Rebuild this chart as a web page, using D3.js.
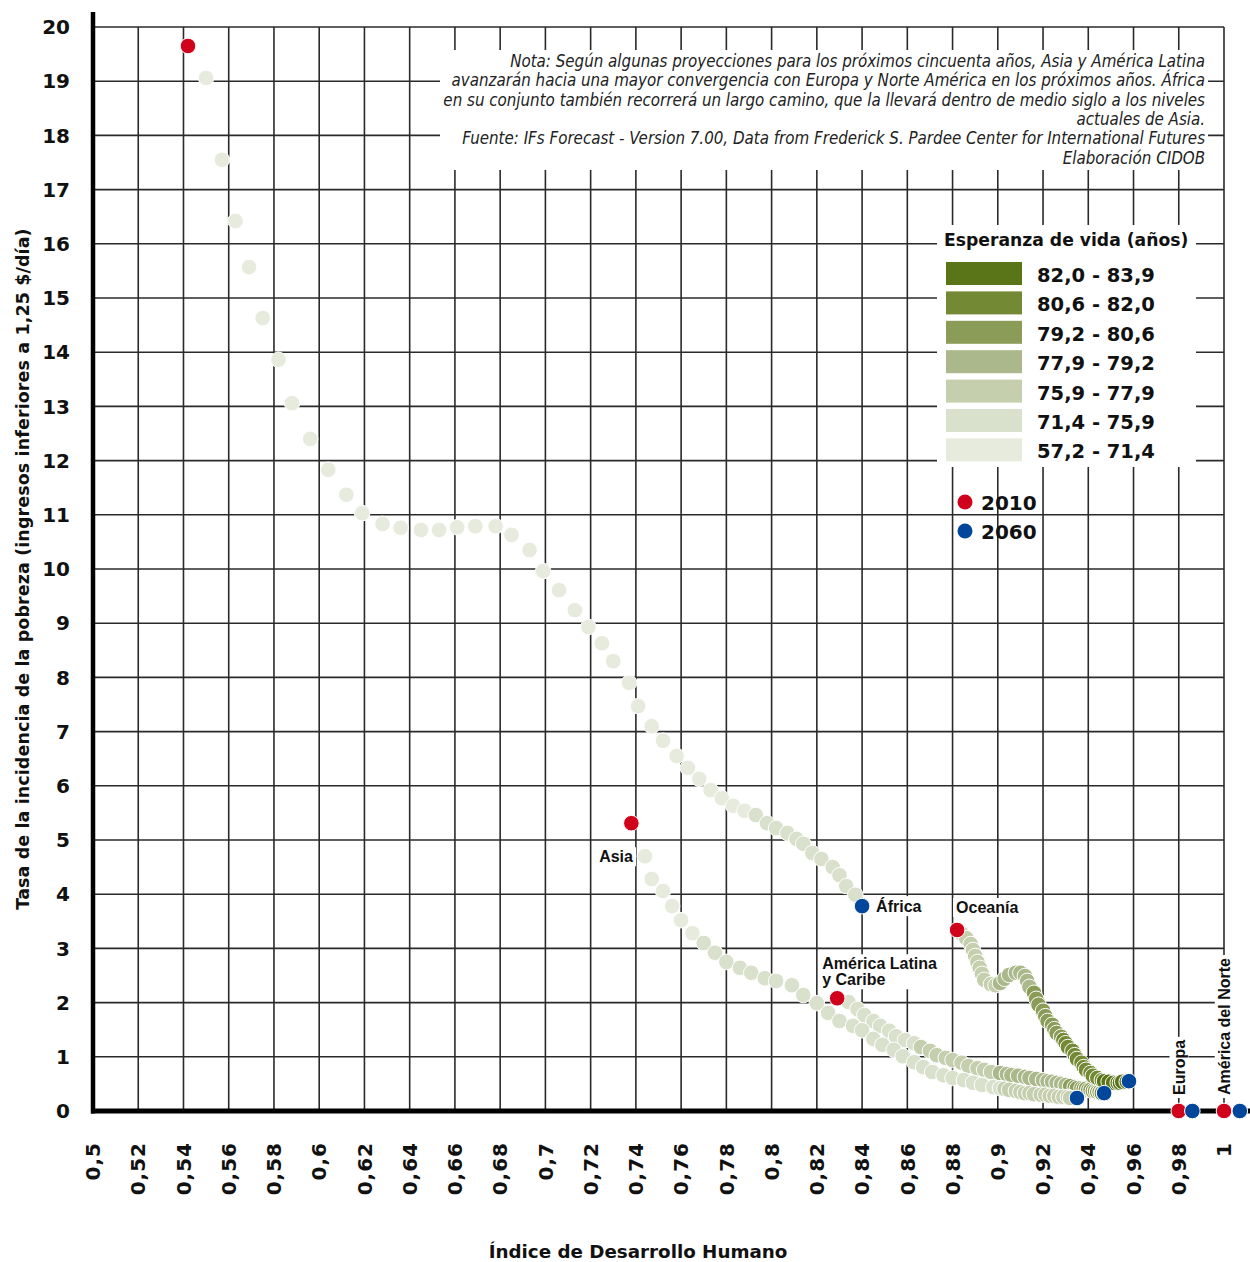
<!DOCTYPE html>
<html><head><meta charset="utf-8">
<script src="https://cdn.jsdelivr.net/npm/d3@7"></script>
<style>body{margin:0;background:#fff}svg{display:block}</style>
</head><body><svg id="c" width="1250" height="1262"></svg>
<script>
// ---------- DATA ----------
const xTicks = [0.5,0.52,0.54,0.56,0.58,0.6,0.62,0.64,0.66,0.68,0.7,0.72,0.74,0.76,0.78,0.8,0.82,0.84,0.86,0.88,0.9,0.92,0.94,0.96,0.98,1];
const xTickLabels = ["0,5","0,52","0,54","0,56","0,58","0,6","0,62","0,64","0,66","0,68","0,7","0,72","0,74","0,76","0,78","0,8","0,82","0,84","0,86","0,88","0,9","0,92","0,94","0,96","0,98","1"];
const yTicks = [0,1,2,3,4,5,6,7,8,9,10,11,12,13,14,15,16,17,18,19,20];

const africaHdi = [0.542,0.550,0.557,0.563,0.569,0.575,0.582,0.588,0.596,0.604,0.612,0.619,0.628,0.636,0.645,0.653,0.661,0.669,0.678,0.685,0.693,0.699,0.706,0.713,0.719,0.725,0.730,0.737,0.741,0.747,0.752,0.758,0.763,0.768,0.773,0.778,0.783,0.788,0.793,0.798,0.802,0.807,0.811,0.814,0.818,0.822,0.827,0.830,0.833,0.837,0.840];
const africaPov = [19.65,19.06,17.55,16.42,15.57,14.63,13.86,13.06,12.40,11.83,11.37,11.03,10.83,10.76,10.72,10.72,10.77,10.79,10.79,10.63,10.35,9.96,9.61,9.24,8.93,8.63,8.30,7.90,7.47,7.10,6.83,6.55,6.33,6.13,5.92,5.77,5.63,5.54,5.46,5.31,5.22,5.13,5.02,4.93,4.76,4.65,4.50,4.35,4.15,3.99,3.78];
const africaLife = [57.4,57.8,58.2,58.6,59.0,59.4,59.8,60.2,60.6,61.0,61.4,61.8,62.2,62.6,63.0,63.4,63.8,64.2,64.6,65.0,65.4,65.8,66.2,66.6,67.0,67.4,67.8,68.2,68.6,69.0,69.4,69.8,70.1,70.4,70.7,71.0,71.2,71.3,71.5,71.7,71.9,72.1,72.3,72.5,72.7,72.9,73.1,73.3,73.5,73.7,73.9];

const asiaHdi = [0.738,0.744,0.747,0.752,0.756,0.760,0.765,0.770,0.775,0.780,0.786,0.791,0.797,0.802,0.809,0.814,0.820,0.825,0.830,0.836,0.840,0.845,0.849,0.854,0.858,0.863,0.867,0.871,0.876,0.880,0.885,0.889,0.893,0.898,0.901,0.903,0.905,0.908,0.910,0.912,0.914,0.916,0.919,0.921,0.923,0.925,0.927,0.929,0.931,0.932,0.935];
const asiaPov = [5.31,4.70,4.28,4.06,3.78,3.52,3.28,3.10,2.92,2.75,2.64,2.55,2.45,2.40,2.32,2.14,1.99,1.81,1.66,1.57,1.49,1.33,1.22,1.13,1.01,0.90,0.81,0.72,0.66,0.61,0.57,0.52,0.48,0.44,0.42,0.41,0.39,0.37,0.35,0.33,0.33,0.31,0.30,0.30,0.28,0.28,0.26,0.26,0.26,0.24,0.24];
const asiaLife = [70.2,70.5,70.8,71.0,71.2,71.3,71.3,71.5,71.7,71.9,72.1,72.3,72.5,72.7,72.9,73.1,73.3,73.5,73.7,73.9,74.1,74.2,74.4,74.5,74.7,74.8,75.0,75.1,75.2,75.3,75.4,75.5,75.6,75.7,75.8,76.0,76.1,76.2,76.3,76.4,76.5,76.6,76.7,76.8,76.9,77.0,77.1,77.2,77.3,77.4,77.5];

const latamHdi = [0.829,0.834,0.838,0.841,0.845,0.848,0.852,0.855,0.859,0.863,0.866,0.870,0.873,0.877,0.880,0.884,0.887,0.891,0.894,0.897,0.901,0.904,0.906,0.909,0.912,0.914,0.917,0.920,0.922,0.924,0.926,0.928,0.930,0.932,0.934,0.935,0.937,0.938,0.939,0.940,0.941,0.942,0.943,0.944,0.944,0.945,0.945,0.946,0.946,0.947,0.947];
const latamPov = [2.08,2.01,1.88,1.77,1.66,1.57,1.48,1.38,1.31,1.25,1.18,1.11,1.03,0.98,0.94,0.89,0.83,0.79,0.76,0.72,0.70,0.68,0.66,0.65,0.63,0.61,0.59,0.57,0.55,0.54,0.52,0.50,0.48,0.46,0.44,0.42,0.42,0.41,0.41,0.39,0.39,0.37,0.37,0.37,0.35,0.35,0.35,0.35,0.33,0.33,0.33];
const latamLife = [74.0,74.2,74.4,74.6,74.8,75.0,75.2,75.4,75.6,75.8,76.0,76.2,76.4,76.6,76.8,77.0,77.2,77.4,77.6,77.8,77.9,78.0,78.1,78.2,78.3,78.4,78.5,78.6,78.7,78.8,78.9,79.0,79.1,79.2,79.3,79.4,79.5,79.6,79.7,79.8,79.9,80.0,80.1,80.2,80.3,80.4,80.5,80.6,80.7,80.8,80.9];

const oceaniaHdi = [0.882,0.884,0.886,0.888,0.889,0.890,0.891,0.892,0.893,0.894,0.897,0.899,0.901,0.903,0.905,0.908,0.910,0.912,0.913,0.914,0.916,0.917,0.918,0.920,0.921,0.922,0.924,0.925,0.926,0.928,0.929,0.930,0.931,0.933,0.934,0.935,0.937,0.938,0.939,0.941,0.942,0.944,0.946,0.947,0.949,0.951,0.953,0.954,0.955,0.957,0.958];
const oceaniaPov = [3.34,3.27,3.19,3.08,2.97,2.86,2.75,2.64,2.53,2.42,2.34,2.32,2.36,2.44,2.51,2.55,2.55,2.49,2.40,2.29,2.18,2.07,1.96,1.85,1.75,1.66,1.59,1.51,1.44,1.37,1.31,1.25,1.18,1.11,1.03,0.96,0.89,0.81,0.76,0.70,0.65,0.61,0.57,0.55,0.54,0.52,0.52,0.52,0.54,0.54,0.55];
const oceaniaLife = [76.6,76.8,77.0,77.1,77.2,77.3,77.4,77.5,77.6,77.7,77.8,77.85,78.0,78.2,78.4,78.5,78.7,78.8,78.9,79.1,79.3,79.4,79.5,79.7,79.8,79.9,80.0,80.2,80.3,80.5,80.7,80.8,80.9,81.0,81.1,81.2,81.3,81.4,81.5,81.6,81.7,81.8,81.9,82.0,82.1,82.2,82.3,82.4,82.5,82.6,82.7];

const europeHdi = [0.980, 0.986];
const europePov = [0, 0];
const northAmHdi = [1.000, 1.007];
const northAmPov = [0, 0];

const lifeBreaks = [71.4, 75.9, 77.9, 79.2, 80.6, 82.0];
const lifeColors = ["#e7ebdd","#d9e0cb","#c5cfae","#abb88b","#8a9c57","#748934","#5a7517"];
const legendLabels = ["82,0 - 83,9","80,6 - 82,0","79,2 - 80,6","77,9 - 79,2","75,9 - 77,9","71,4 - 75,9","57,2 - 71,4"];
const yearLabels = ["2010","2060"];
const yearColors = ["#d0021b","#00479b"];

const noteLines = [
 "Nota: Según algunas proyecciones para los próximos cincuenta años, Asia y América Latina",
 "avanzarán hacia una mayor convergencia con Europa y Norte América en los próximos años. África",
 "en su conjunto también recorrerá un largo camino, que la llevará dentro de medio siglo a los niveles",
 "actuales de Asia.",
 "Fuente: IFs Forecast - Version 7.00, Data from Frederick S. Pardee Center for International Futures",
 "Elaboración CIDOB"
];

// ---------- CHART ----------
const svg = d3.select("#c");
svg.append("rect").attr("width",1250).attr("height",1262).attr("fill","#fff");

const x = d3.scaleLinear().domain([0.5, 1]).range([93, 1224]);
const y = d3.scaleLinear().domain([0, 20]).range([1111, 27]);
const color = d3.scaleThreshold().domain(lifeBreaks).range(lifeColors);

const NUM = "'DejaVu Sans', sans-serif";
const LAB = "'Liberation Sans', Arial, sans-serif";
const R = 7.8;

// grid
const grid = svg.append("g").attr("stroke","#2a2a2a").attr("stroke-width",1.6);
grid.selectAll("line.v").data(xTicks.slice(1)).join("line")
  .attr("x1",d=>x(d)).attr("x2",d=>x(d)).attr("y1",y(20)).attr("y2",y(0));
grid.selectAll("line.h").data(yTicks.slice(1)).join("line")
  .attr("x1",x(0.5)).attr("x2",x(1)).attr("y1",d=>y(d)).attr("y2",d=>y(d));

// note box
const noteG = svg.append("g");
noteG.append("rect").attr("x",440).attr("y",50).attr("width",768).attr("height",120).attr("fill","#fff");
noteG.selectAll("text").data(noteLines).join("text")
  .attr("x",1205).attr("y",(d,i)=>67+i*19.3)
  .attr("text-anchor","end")
  .attr("font-family","'Liberation Sans Narrow','DejaVu Sans Condensed',sans-serif")
  .attr("font-style","italic").attr("font-size",16.8).attr("fill","#222")
  .text(d=>d);

// legend box
const lg = svg.append("g");
lg.append("rect").attr("x",937).attr("y",225).attr("width",259).attr("height",242).attr("fill","#fff");
lg.append("text").attr("x",944).attr("y",246).attr("font-family",NUM).attr("font-weight",700)
  .attr("font-size",17.2).attr("fill","#111").text("Esperanza de vida (años)");
const rows = legendLabels.map((l,i)=>({l, c: lifeColors[lifeColors.length-1-i], i}));
lg.selectAll("rect.sw").data(rows).join("rect").attr("class","sw")
  .attr("x",946).attr("y",d=>262+d.i*29.4).attr("width",76).attr("height",23).attr("fill",d=>d.c);
lg.selectAll("text.lt").data(rows).join("text").attr("class","lt")
  .attr("x",1037).attr("y",d=>282+d.i*29.4).attr("font-family",NUM).attr("font-weight",700)
  .attr("font-size",19.5).attr("fill","#111").text(d=>d.l);

// year legend
const yl = svg.append("g");
yearLabels.forEach((t,i)=>{
  yl.append("circle").attr("cx",965).attr("cy",502+i*29).attr("r",7.5).attr("fill",yearColors[i]);
  yl.append("text").attr("x",981).attr("y",510+i*29).attr("font-family",NUM).attr("font-weight",700)
    .attr("font-size",20).attr("fill","#111").text(t);
});

// axes lines
svg.append("line").attr("x1",x(0.5)).attr("x2",x(0.5)).attr("y1",12).attr("y2",y(0)+2.5)
  .attr("stroke","#000").attr("stroke-width",4.5);
svg.append("line").attr("x1",x(0.5)-2).attr("x2",1250).attr("y1",y(0)).attr("y2",y(0))
  .attr("stroke","#000").attr("stroke-width",5);

// y tick labels
svg.append("g").selectAll("text").data(yTicks).join("text")
  .attr("x",70).attr("y",d=>y(d)).attr("dy","0.36em").attr("text-anchor","end")
  .attr("font-family",NUM).attr("font-weight",700).attr("font-size",20).attr("fill","#111")
  .text(d=>d);

// x tick labels
svg.append("g").selectAll("text").data(xTicks).join("text")
  .attr("transform",d=>`translate(${x(d)},1142) rotate(-90)`)
  .attr("dy","0.36em").attr("text-anchor","end")
  .attr("font-family",NUM).attr("font-weight",700).attr("font-size",20).attr("fill","#111")
  .attr("letter-spacing",1)
  .text((d,i)=>xTickLabels[i]);

// axis titles
svg.append("text").attr("x",638).attr("y",1258).attr("text-anchor","middle")
  .attr("font-family",NUM).attr("font-weight",700).attr("font-size",18.3).attr("fill","#111")
  .text("Índice de Desarrollo Humano");
svg.append("text").attr("transform","translate(29,569) rotate(-90)").attr("text-anchor","middle")
  .attr("font-family",NUM).attr("font-weight",700).attr("font-size",17.5).attr("fill","#111")
  .attr("letter-spacing",0.1)
  .text("Tasa de la incidencia de la pobreza (ingresos inferiores a 1,25 $/día)");

// series
function mk(h,p,l){ return h.map((v,i)=>({hdi:v,pov:p[i],life:l?l[i]:null,i})); }
const africa = mk(africaHdi,africaPov,africaLife);
const asia = mk(asiaHdi,asiaPov,asiaLife);
const latam = mk(latamHdi,latamPov,latamLife);
const oceania = mk(oceaniaHdi,oceaniaPov,oceaniaLife);
const europe = mk(europeHdi,europePov,null);
const northAm = mk(northAmHdi,northAmPov,null);

const pts = svg.append("g");
[africa, latam, asia, oceania].forEach(s=>{
  pts.append("g").selectAll("circle").data(s.slice(1,-1)).join("circle")
    .attr("cx",d=>x(d.hdi)).attr("cy",d=>y(d.pov)).attr("r",R)
    .attr("fill",d=>color(d.life)).attr("stroke","#fff").attr("stroke-width",1);
});

// labels with white background
function label(txt, tx, ty, anchor, rot){
  const g = svg.append("g").attr("transform",`translate(${tx},${ty})${rot?" rotate(-90)":""}`);
  const lines = txt.split("\n");
  const t = g.append("text").attr("text-anchor",anchor).attr("font-family",LAB).attr("font-weight",700)
    .attr("font-size",16).attr("fill","#111");
  lines.forEach((ln,i)=>t.append("tspan").attr("x",0).attr("dy",i?16:(rot?"0.36em":0)).text(ln));
  const b = t.node().getBBox();
  g.insert("rect","text").attr("x",b.x-3).attr("y",b.y-1).attr("width",b.width+6).attr("height",b.height+2).attr("fill","#fff");
}
label("Asia", x(asia[1].hdi)-12, y(asia[1].pov)+6, "end");
label("África", x(africa[50].hdi)+14, y(africa[50].pov)+6, "start");
label("Oceanía", x(oceania[0].hdi)-1, y(oceania[0].pov)-17, "start");
label("América Latina\ny Caribe", x(latam[0].hdi)-15, y(latam[0].pov)-29, "start");
label("Europa", x(europe[0].hdi), y(0)-16, "start", true);
label("América del Norte", x(northAm[0].hdi), y(0)-16, "start", true);

// 2010 / 2060 points on top
const ends = svg.append("g");
[africa, asia, latam, oceania, europe, northAm].forEach(s=>{
  [s[0], s[s.length-1]].forEach((d,k)=>{
    ends.append("circle").attr("cx",x(d.hdi)).attr("cy",y(d.pov)).attr("r",R)
      .attr("fill",yearColors[k]).attr("stroke","#fff").attr("stroke-width",1);
  });
});
</script></body></html>
